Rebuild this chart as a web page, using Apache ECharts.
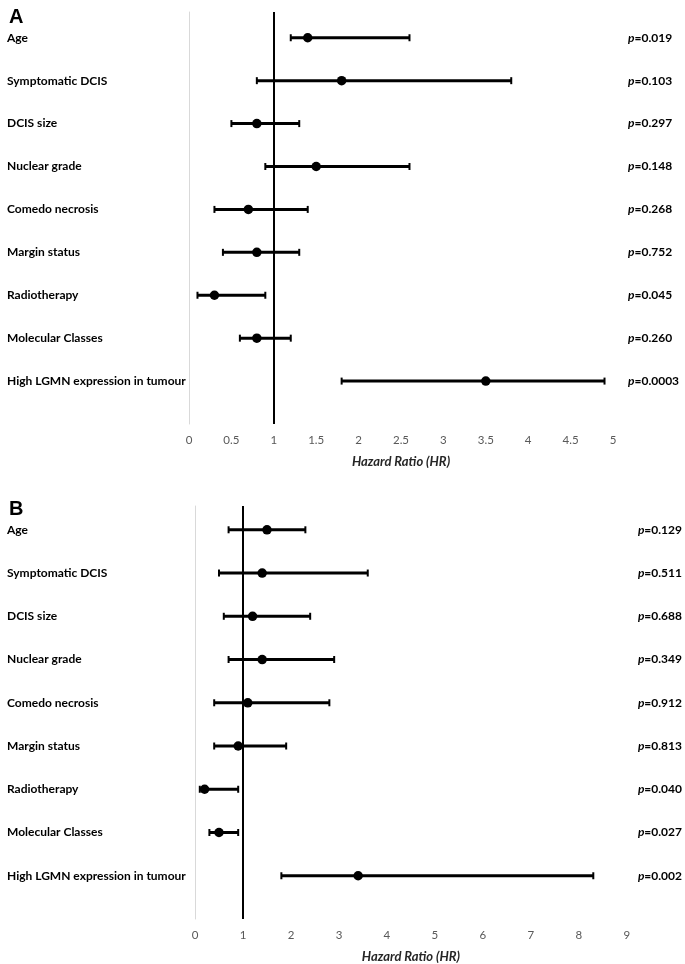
<!DOCTYPE html>
<html>
<head>
<meta charset="utf-8">
<style>html,body{margin:0;padding:0;background:#fff;}#c{width:685px;height:964px;}</style>
<script src="https://cdn.jsdelivr.net/npm/echarts@6/dist/echarts.min.js"></script>
</head>
<body>
<div id="c"></div>
<script>
var categories = ['Age','Symptomatic DCIS','DCIS size','Nuclear grade','Comedo necrosis','Margin status','Radiotherapy','Molecular Classes','High LGMN expression in tumour'];

var hrA   = [1.4, 1.8, 0.8, 1.5, 0.7, 0.8, 0.3, 0.8, 3.5];
var lowA  = [1.2, 0.8, 0.5, 0.9, 0.3, 0.4, 0.1, 0.6, 1.8];
var highA = [2.6, 3.8, 1.3, 2.6, 1.4, 1.3, 0.9, 1.2, 4.9];
var pA    = ['0.019','0.103','0.297','0.148','0.268','0.752','0.045','0.260','0.0003'];

var hrB   = [1.5, 1.4, 1.2, 1.4, 1.1, 0.9, 0.2, 0.5, 3.4];
var lowB  = [0.7, 0.5, 0.6, 0.7, 0.4, 0.4, 0.1, 0.3, 1.8];
var highB = [2.3, 3.6, 2.4, 2.9, 2.8, 1.9, 0.9, 0.9, 8.3];
var pB    = ['0.129','0.511','0.688','0.349','0.912','0.813','0.040','0.027','0.002'];

var ticksA = {min: 0, max: 5, interval: 0.5};
var ticksB = {min: 0, max: 9, interval: 1};

var FONT = 'Lato';
var n = categories.length;

function rowVal(i){ return n - i; }

function catFormatter(v){
  if (Math.abs(v - Math.round(v)) > 1e-6) return '';
  var i = n - Math.round(v);
  if (i < 0 || i >= n) return '';
  return categories[i];
}
function pFormatter(arr){
  return function(v){
    if (Math.abs(v - Math.round(v)) > 1e-6) return '';
    var i = n - Math.round(v);
    if (i < 0 || i >= n) return '';
    return '{i|p}{b|=' + arr[i] + '}';
  };
}

function errData(low, high){
  return low.map(function(l, i){ return [l, high[i], rowVal(i)]; });
}
function ptData(hr){
  return hr.map(function(h, i){ return [h, rowVal(i)]; });
}

function renderErr(params, api){
  var y = api.value(2);
  var p1 = api.coord([api.value(0), y]);
  var p2 = api.coord([api.value(1), y]);
  var cap = 3.5;
  var st = {stroke: '#000', lineWidth: 3};
  var cs = {stroke: '#000', lineWidth: 2};
  return {
    type: 'group',
    children: [
      {type: 'line', shape: {x1: p1[0], y1: p1[1], x2: p2[0], y2: p2[1]}, style: st},
      {type: 'line', shape: {x1: p1[0], y1: p1[1] - cap, x2: p1[0], y2: p1[1] + cap}, style: cs},
      {type: 'line', shape: {x1: p2[0], y1: p2[1] - cap, x2: p2[0], y2: p2[1] + cap}, style: cs}
    ]
  };
}

function xAxisCfg(gi, t){
  return {
    type: 'value', gridIndex: gi, min: t.min, max: t.max, interval: t.interval,
    axisLine: {show: false}, axisTick: {show: false}, splitLine: {show: false},
    axisLabel: {color: '#595959', fontFamily: FONT, fontSize: 11.5, margin: 10},
    name: 'Hazard Ratio (HR)', nameLocation: 'middle', nameGap: 31,
    nameTextStyle: {fontFamily: FONT, fontSize: 13, fontWeight: 'bold', fontStyle: 'italic', color: '#262626'}
  };
}
function yLeft(gi, mx){
  return {
    type: 'value', gridIndex: gi, min: 0, max: mx, interval: 1, position: 'left',
    axisLine: {show: true, lineStyle: {color: '#d9d9d9', width: 1}},
    axisTick: {show: false}, splitLine: {show: false},
    axisLabel: {formatter: catFormatter, align: 'left', margin: gi === 0 ? 182 : 188,
      fontFamily: FONT, fontSize: 12, fontWeight: 'bold', color: '#000', showMaxLabel: false, showMinLabel: false}
  };
}
function yRight(gi, mx, arr, margin){
  return {
    type: 'value', gridIndex: gi, min: 0, max: mx, interval: 1, position: 'right',
    axisLine: {show: false}, axisTick: {show: false}, splitLine: {show: false},
    axisLabel: {formatter: pFormatter(arr), align: 'left', margin: margin, showMaxLabel: false, showMinLabel: false,
      rich: {
        i: {fontFamily: FONT, fontSize: 12, fontWeight: 'bold', fontStyle: 'italic', color: '#000'},
        b: {fontFamily: FONT, fontSize: 12, fontWeight: 'bold', color: '#000'}
      }}
  };
}

var refLine = {
  silent: true, symbol: ['none', 'none'], label: {show: false},
  lineStyle: {color: '#000', width: 2, type: 'solid', opacity: 1},
  emphasis: {disabled: true},
  data: [{xAxis: 1}]
};

var option = {
  animation: false,
  backgroundColor: '#fff',
  title: [
    {text: 'A', left: 4, top: 2, textStyle: {fontFamily: 'Liberation Sans', fontSize: 20, fontWeight: 'bold', color: '#000'}},
    {text: 'B', left: 4, top: 494, textStyle: {fontFamily: 'Liberation Sans', fontSize: 20, fontWeight: 'bold', color: '#000'}}
  ],
  grid: [
    {left: 189, right: 72, top: 12, height: 412},
    {left: 195, right: 58, top: 506, height: 414}
  ],
  xAxis: [xAxisCfg(0, ticksA), xAxisCfg(1, ticksB)],
  yAxis: [yLeft(0, 9.6), yRight(0, 9.6, pA, 15), yLeft(1, 9.55), yRight(1, 9.55, pB, 11)],
  series: [
    {type: 'custom', xAxisIndex: 0, yAxisIndex: 0, renderItem: renderErr, data: errData(lowA, highA), z: 3,
      encode: {x: [0, 1], y: 2}},
    {type: 'scatter', xAxisIndex: 0, yAxisIndex: 0, data: ptData(hrA), symbolSize: 9.5,
      itemStyle: {color: '#000', opacity: 1}, z: 4, markLine: refLine},
    {type: 'custom', xAxisIndex: 1, yAxisIndex: 2, renderItem: renderErr, data: errData(lowB, highB), z: 3,
      encode: {x: [0, 1], y: 2}},
    {type: 'scatter', xAxisIndex: 1, yAxisIndex: 2, data: ptData(hrB), symbolSize: 9.5,
      itemStyle: {color: '#000', opacity: 1}, z: 4, markLine: refLine}
  ]
};

echarts.init(document.getElementById('c'), null, {renderer: 'canvas'}).setOption(option);
</script>
</body>
</html>
